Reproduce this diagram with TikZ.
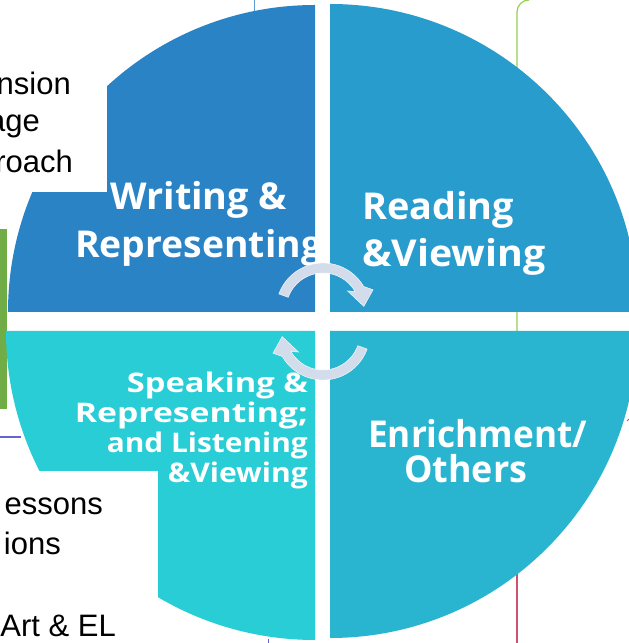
\documentclass[tikz,border=0pt]{standalone}
\usepackage{fontspec}
\setmainfont{Liberation Sans}
\newfontfamily\labfont{Open Sans}
\usepackage{graphicx}
\definecolor{qTL}{RGB}{42,131,197}
\definecolor{qTR}{RGB}{40,156,204}
\definecolor{qBL}{RGB}{41,205,214}
\definecolor{qBR}{RGB}{41,180,208}
\definecolor{arrowc}{RGB}{211,220,234}
\definecolor{linegreen}{RGB}{146,208,80}
\definecolor{linered}{RGB}{208,80,112}
\definecolor{lineblue}{RGB}{91,155,213}
\definecolor{linepurple}{RGB}{100,100,210}
\definecolor{bargreen}{RGB}{112,173,71}
\tikzset{
  lab/.style={text=white, inner sep=0pt, anchor=base west, font=\labfont\bfseries\fontsize{37}{40}\selectfont},
  slab/.style={text=white, inner sep=0pt, anchor=base east, font=\labfont\bfseries\fontsize{27}{30}\selectfont},
  blk/.style={text=black, inner sep=0pt, anchor=base east, font=\fontsize{31}{34}\selectfont},
  cyc/.style={fill=arrowc, draw=white, line width=0.4pt}
}
\newcommand\wfit[2]{\resizebox{#1pt}{\height}{#2}}
\begin{document}
\begin{tikzpicture}[x=1pt,y=1pt]
\useasboundingbox (0,0) rectangle (629,643);
\fill[white] (0,0) rectangle (629,643);
% background slide lines
\draw[linegreen, line width=1.2pt] (517,300) -- (517,631) arc[start angle=180,end angle=90,radius=12pt];
\draw[linered, line width=1.2pt] (517,0) -- (517,90);
\draw[lineblue, line width=1pt] (254,643) -- (254,625);
\draw[linepurple, line width=1.5pt] (0,206) -- (21,206);
\draw[linepurple, line width=1pt] (268,0) -- (268,4);
\draw[linered, line width=1pt] (627,222) -- (629,224);
\fill[bargreen] (0,234) rectangle (7,414);
% quadrants
\fill[qTL] (315,331) -- ++(180:307pt) arc[start angle=180,end angle=90,radius=307pt] -- cycle;
\fill[qTR] (330,331) -- ++(90:308pt) arc[start angle=90,end angle=0,radius=308pt] -- cycle;
\fill[qBL] (315,312) -- ++(180:309pt) arc[start angle=180,end angle=270,radius=309pt] -- cycle;
\fill[qBR] (330,312) -- ++(0:307pt) arc[start angle=0,end angle=-90,radius=307pt] -- cycle;
% white overlays from the slide
\fill[white] (0,643) rectangle (107,451);
\fill[white] (0,0) rectangle (158,172);
% black slide text
\node[blk] (t1) at (71,548) {nsion};
\node[blk] (t2) at (40,511) {age};
\node[blk] (t3) at (73,470) {roach};
\node[blk] (t4) at (103,128) {essons};
\node[blk] (t5) at (61,88) {ions};
\node[blk] (t6) at (116,6) {Art \& EL};
% quadrant labels
\node[lab] (w1) at (110,433) {\wfit{177}{Writing \&}};
\begin{scope}
\clip (315,331) -- ++(180:307pt) arc[start angle=180,end angle=90,radius=307pt] -- cycle;
\node[lab] (w2) at (75,385) {\wfit{247}{Representing}};
\end{scope}
\node[lab] (r1) at (362,423) {\wfit{152}{Reading}};
\node[lab] (r2) at (362,376) {\wfit{183}{\&Viewing}};
\node[lab] (e1) at (368,195) {\wfit{219}{Enrichment/}};
\node[lab] (e2) at (404,160) {\wfit{123}{Others}};
\node[slab] (s1) at (308,250) {\wfit{181}{Speaking \&}};
\node[slab] (s2) at (308,220) {\wfit{233}{Representing;}};
\node[slab] (s3) at (308,190) {\wfit{201}{and Listening}};
\node[slab] (s4) at (308,160) {\wfit{140}{\&Viewing}};
% cycle arrows
\begin{scope}[shift={(323,333)}]
\fill[cyc] (160:47) arc[start angle=160,end angle=30,radius=47pt] -- (22:54) -- (5:41) -- (38:31) -- (30:37) arc[start angle=30,end angle=160,radius=37pt] -- cycle;
\end{scope}
\begin{scope}[shift={(323,310)}, rotate=180]
\fill[cyc] (160:47) arc[start angle=160,end angle=30,radius=47pt] -- (22:54) -- (5:41) -- (38:31) -- (30:37) arc[start angle=30,end angle=160,radius=37pt] -- cycle;
\end{scope}
\end{tikzpicture}
\end{document}
